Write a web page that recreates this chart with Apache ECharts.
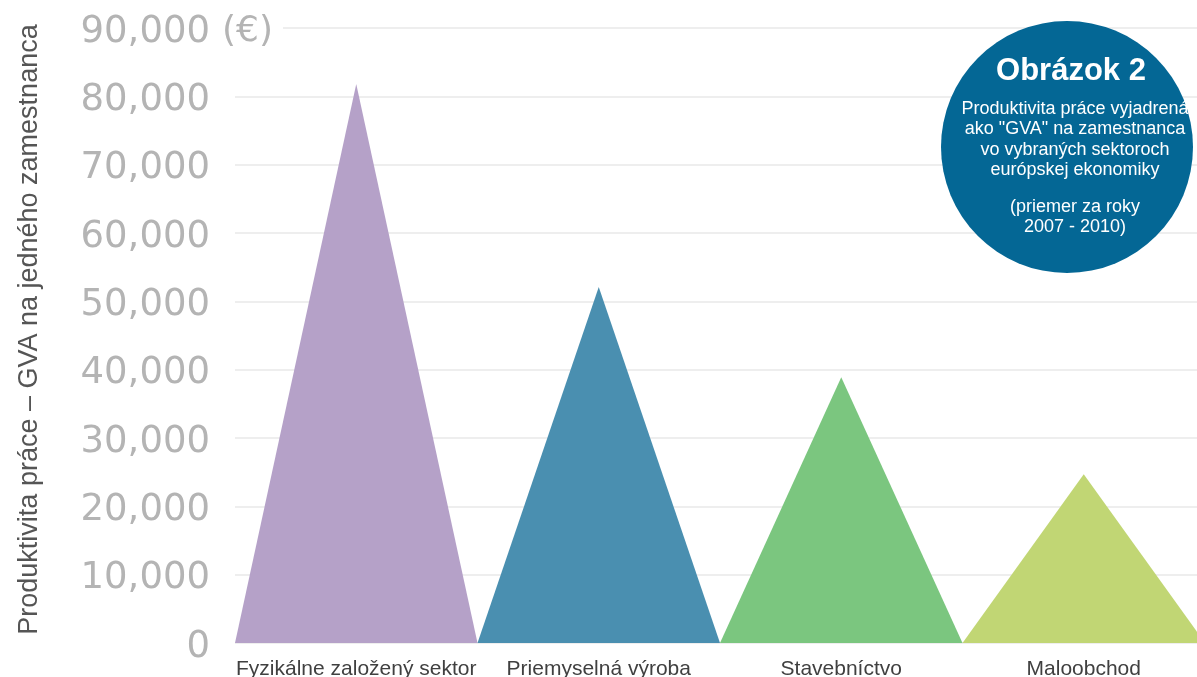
<!DOCTYPE html>
<html>
<head>
<meta charset="utf-8">
<script src="https://cdn.jsdelivr.net/npm/echarts@6/dist/echarts.min.js"></script>
<style>
html,body{margin:0;padding:0;background:#fff;}
#main{width:1197px;height:677px;}
</style>
</head>
<body>
<div id="main"></div>
<script>
const categories = ['Fyzikálne založený sektor', 'Priemyselná výroba', 'Stavebníctvo', 'Maloobchod'];
const values = [81800, 52100, 38900, 24700];
const colors = ['#b5a1c8', '#4a8fb0', '#7bc67f', '#c1d674'];
const yTicks = [0, 10000, 20000, 30000, 40000, 50000, 60000, 70000, 80000, 90000];
const yAxisTitle = 'Produktivita práce – GVA na jedného zamestnanca';
const unitLabel = '(€)';
const boxTitle = 'Obrázok 2';
const boxLines = ['Produktivita práce vyjadrená', 'ako "GVA" na zamestnanca', 'vo vybraných sektoroch', 'európskej ekonomiky'];
const boxNote = ['(priemer za roky', '2007 - 2010)'];

const chart = echarts.init(document.getElementById('main'), null, {renderer: 'canvas'});
const fmt = v => v.toLocaleString('en-US');

chart.setOption({
  animation: false,
  backgroundColor: '#ffffff',
  grid: {left: 235, top: 28, width: 970, height: 615, containLabel: false, outerBoundsMode: 'none'},
  xAxis: {
    type: 'category',
    data: categories,
    axisLine: {show: false},
    axisTick: {show: false},
    axisLabel: {
      margin: 16,
      fontFamily: 'Liberation Sans',
      fontSize: 21,
      color: '#404040',
      interval: 0
    }
  },
  yAxis: {
    type: 'value',
    min: yTicks[0],
    max: yTicks[yTicks.length - 1],
    interval: 10000,
    axisLine: {show: false},
    axisTick: {show: false},
    splitLine: {lineStyle: {color: '#e9e9e9', width: 1.5}},
    axisLabel: {
      margin: 25,
      fontFamily: 'DejaVu Sans',
      fontSize: 37,
      color: '#b4b4b4',
      verticalAlign: 'top',
      lineHeight: 8,
      formatter: v => fmt(v)
    },
    name: yAxisTitle,
    nameLocation: 'middle',
    nameRotate: 90,
    nameGap: 192,
    nameTextStyle: {
      fontFamily: 'Liberation Sans',
      fontSize: 27,
      color: '#555555',
      padding: [0, 0, 0, 12]
    }
  },
  series: [{
    type: 'pictorialBar',
    symbol: 'triangle',
    symbolSize: ['100%', '100%'],
    barCategoryGap: '0%',
    data: values.map((v, i) => ({value: v, itemStyle: {color: colors[i]}})),
    z: 3
  }],
  graphic: [
    {
      type: 'text',
      left: 220,
      top: 14,
      z: 10,
      style: {
        text: unitLabel,
        font: '36px "DejaVu Sans"',
        fill: '#b4b4b4',
        backgroundColor: '#ffffff',
        padding: [0, 10, 0, 2]
      }
    },
    {
      type: 'circle',
      shape: {cx: 1067, cy: 147, r: 126},
      style: {fill: '#046795'},
      z: 10
    },
    {
      type: 'text',
      x: 1071,
      y: 71,
      z: 11,
      style: {
        text: boxTitle,
        font: 'bold 31px "Liberation Sans"',
        fill: '#ffffff',
        align: 'center',
        verticalAlign: 'middle'
      }
    },
    {
      type: 'text',
      x: 1075,
      y: 99,
      z: 11,
      style: {
        text: boxLines.join('\n'),
        font: '18px "Liberation Sans"',
        lineHeight: 20.3,
        fill: '#ffffff',
        align: 'center',
        verticalAlign: 'top'
      }
    },
    {
      type: 'text',
      x: 1075,
      y: 197,
      z: 11,
      style: {
        text: boxNote.join('\n'),
        font: '18px "Liberation Sans"',
        lineHeight: 20.3,
        fill: '#ffffff',
        align: 'center',
        verticalAlign: 'top'
      }
    }
  ]
});
</script>
</body>
</html>
